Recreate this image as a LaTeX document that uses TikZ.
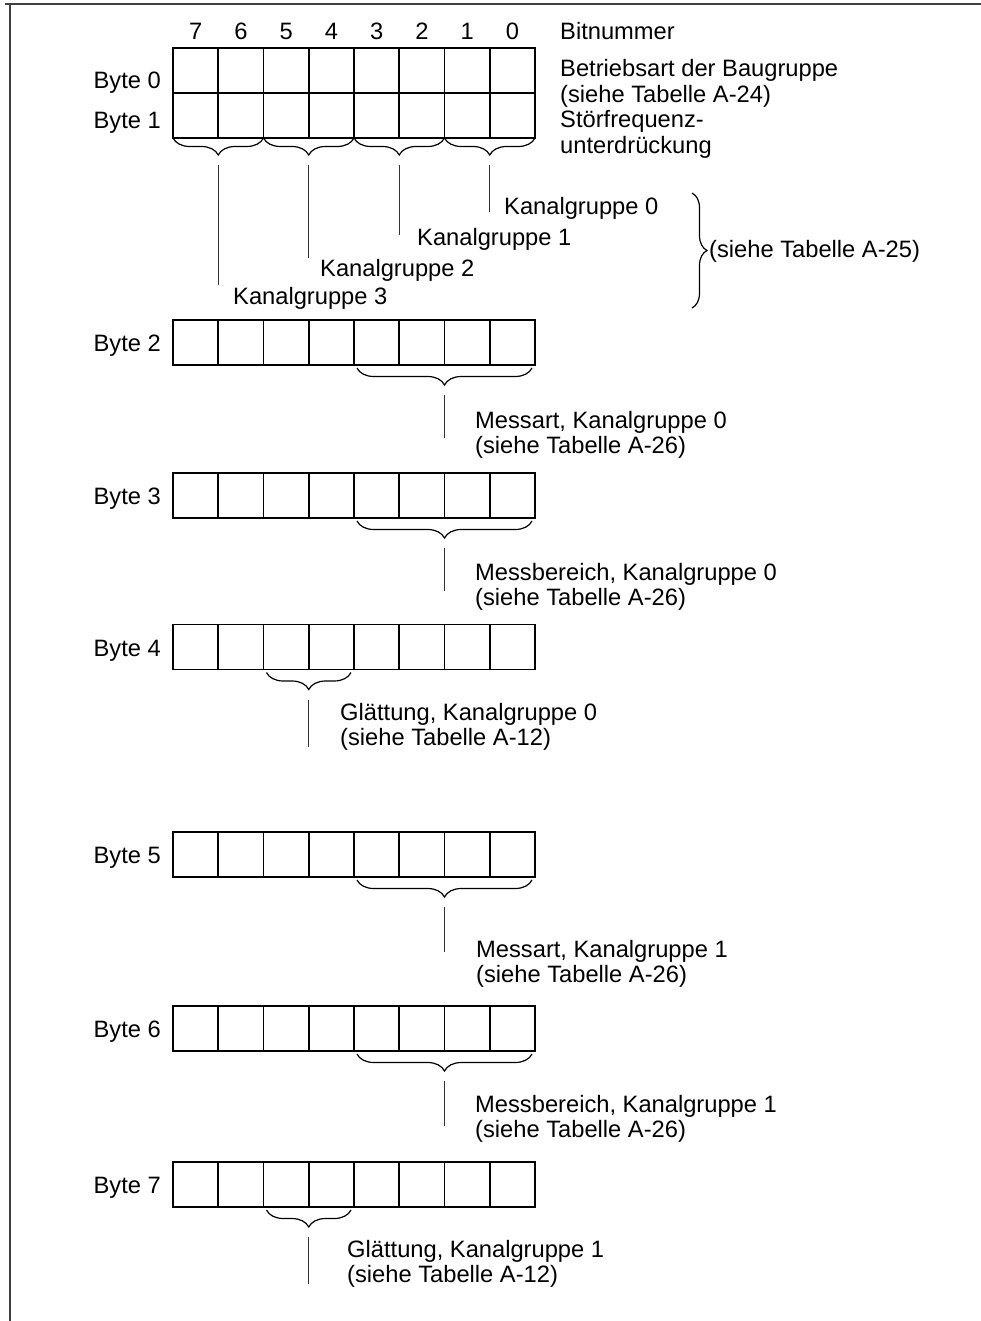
\documentclass[tikz,border=0pt]{standalone}
\usepackage{fontspec}
\setmainfont{Liberation Sans}
\usetikzlibrary{positioning, decorations.pathreplacing, calc}
\newcommand{\lbl}{\fontsize{23.7}{25.5}\selectfont}
\newcommand{\twolines}[2]{\begin{tabular}[t]{@{}l@{}}#1\\#2\end{tabular}}
\tikzset{
  bitcell/.style={draw, line width=1.6pt, minimum width=45.25pt, minimum height=45pt,
    inner sep=0pt, outer sep=0pt},
  bytelabel/.style={anchor=base east, inner sep=0pt, font=\lbl},
  note/.style={anchor=base west, inner sep=0pt, font=\lbl},
  bitno/.style={anchor=base, inner sep=0pt, font=\lbl},
  grp/.style={decorate, decoration={brace, amplitude=17pt}, line width=1.2pt},
  lead/.style={line width=1.3pt, draw=black!80},
  frame/.style={line width=1.5pt, draw=black!75},
}

\begin{document}
\begin{tikzpicture}[x=1pt, y=-1pt]
    \useasboundingbox (0,0) rectangle (981,1321);
    % page frame
    \draw[frame] (5,4) -- (981,4);
    \draw[frame] (10,4) -- (10,1321);

    % byte rows
    \foreach \r/\y in {0/70.5, 1/115.5, 2/342.5, 3/495.5, 4/647, 5/854.5, 6/1028.5, 7/1184.5} {
      \foreach \b in {0,...,7}
        \node[bitcell] (r\r b\b) at ({195.625+45.25*(7-\b)}, \y) {};
    }
    \foreach \r/\y in {0/89, 1/129, 2/351, 3/504, 4/656, 5/863, 6/1037, 7/1193}
      \node[bytelabel] (lab\r) at (161, \y) {Byte \r};

    % bit numbers
    \foreach \b in {0,...,7}
      \node[bitno] (bit\b) at ({195.625+45.25*(7-\b)}, 40) {\b};
    \node[note] (bitnr) at (560, 40) {Bitnummer};

    \node[note] (mode) at (560, 77) {\twolines{Betriebsart der Baugruppe}{(siehe Tabelle A-24)}};
    \node[note] (supp) at (560, 128) {\twolines{Störfrequenz-}{unterdrückung}};

    % channel groups in byte 1
    \foreach \g/\hi/\lo in {0/1/0, 1/3/2, 2/5/4, 3/7/6} {
      \draw[grp] (r1b\lo.south east) -- (r1b\hi.south west);
      \coordinate (tip\g) at ($(r1b\lo.south east)!0.5!(r1b\hi.south west)+(0,27)$);
    }
    \foreach \g/\e/\tx/\ty in {0/212/504/215, 1/235/417/246, 2/258/320/277, 3/285/233/305} {
      \coordinate (kgend\g) at (tip\g |- 0,\e);
      \draw[lead] (tip\g) -- (kgend\g);
      \node[note] (kg\g) at (\tx, \ty) {Kanalgruppe \g};
    }
    \coordinate (kgtop) at (692, 193);
    \coordinate (kgbot) at (692, 308);
    \draw[grp, decoration={amplitude=15pt}] (kgtop) -- (kgbot);
    \node[note] (tab25) at (709, 258) {(siehe Tabelle A-25)};

    % bytes 2 to 7
    \foreach \r/\hi/\lo/\e in {2/3/0/438, 3/3/0/591, 4/5/4/747, 5/3/0/952, 6/3/0/1126, 7/5/4/1284} {
      \coordinate (br\r) at ($(r\r b\lo.south east)+(-3,3)$);
      \coordinate (bl\r) at ($(r\r b\hi.south west)+(3,3)$);
      \draw[grp] (br\r) -- (bl\r);
      \coordinate (top\r) at ($(br\r)!0.5!(bl\r)+(0,27)$);
      \coordinate (end\r) at (top\r |- 0,\e);
      \draw[lead] (top\r) -- (end\r);
    }
    \node[note] (d2) at (475, 428) {\twolines{Messart, Kanalgruppe 0}{(siehe Tabelle A-26)}};
    \node[note] (d3) at (475, 580) {\twolines{Messbereich, Kanalgruppe 0}{(siehe Tabelle A-26)}};
    \node[note] (d4) at (340, 720) {\twolines{Glättung, Kanalgruppe 0}{(siehe Tabelle A-12)}};
    \node[note] (d5) at (476, 957) {\twolines{Messart, Kanalgruppe 1}{(siehe Tabelle A-26)}};
    \node[note] (d6) at (475, 1112) {\twolines{Messbereich, Kanalgruppe 1}{(siehe Tabelle A-26)}};
    \node[note] (d7) at (347, 1257) {\twolines{Glättung, Kanalgruppe 1}{(siehe Tabelle A-12)}};
\end{tikzpicture}
\end{document}
